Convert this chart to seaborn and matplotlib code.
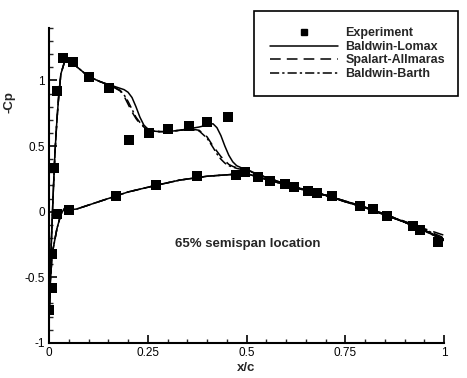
import matplotlib
matplotlib.use("Agg")
import matplotlib.pyplot as plt
from matplotlib.lines import Line2D
from matplotlib.ticker import MultipleLocator, FixedLocator
import seaborn as sns
import pandas as pd

# Experimental pressure taps (x/c, -Cp)
exp_x = [0.000, 0.007, 0.007, 0.013, 0.020, 0.020, 0.035, 0.050, 0.060, 0.100,
         0.152, 0.170, 0.203, 0.253, 0.270, 0.300, 0.354, 0.375, 0.400, 0.454,
         0.473, 0.496, 0.530, 0.560, 0.597, 0.620, 0.656, 0.678, 0.716, 0.787,
         0.820, 0.856, 0.920, 0.940, 0.985]
exp_cp = [-0.75, -0.58, -0.32, 0.33, 0.92, -0.02, 1.17, 0.015, 1.14, 1.03,
          0.94, 0.12, 0.545, 0.60, 0.20, 0.63, 0.655, 0.27, 0.68, 0.72,
          0.28, 0.30, 0.265, 0.235, 0.21, 0.19, 0.16, 0.144, 0.12, 0.045,
          0.02, -0.03, -0.11, -0.14, -0.23]

# Lower surface, trailing edge -> leading edge (shared by all three models)
x_lower = [1.00, 0.95, 0.90, 0.85, 0.80, 0.75, 0.70, 0.65, 0.60, 0.55, 0.50,
           0.47, 0.40, 0.33, 0.27, 0.20, 0.15, 0.10, 0.07, 0.055, 0.047, 0.040,
           0.030, 0.020, 0.008, 0.003, 0.000]
cp_lower = [-0.22, -0.145, -0.08, -0.025, 0.03, 0.075, 0.125, 0.16, 0.205, 0.245, 0.29,
            0.285, 0.27, 0.24, 0.20, 0.15, 0.10, 0.05, 0.02, 0.015, 0.045, 0.03,
            -0.02, -0.13, -0.32, -0.55, -0.80]

# Upper surface, leading edge -> trailing edge
x_upper = [0.000, 0.005, 0.010, 0.015, 0.020, 0.025, 0.030, 0.040, 0.045, 0.060,
           0.080, 0.100, 0.130, 0.160, 0.180, 0.190, 0.200, 0.210, 0.220, 0.230,
           0.240, 0.250, 0.260, 0.280, 0.300, 0.330, 0.360, 0.380, 0.400, 0.415,
           0.425, 0.435, 0.445, 0.455, 0.465, 0.475, 0.490, 0.500, 0.550, 0.600,
           0.650, 0.700, 0.750, 0.800, 0.850, 0.900, 0.950, 1.000]
cp_bl_upper = [-0.80, -0.30, 0.10, 0.45, 0.70, 0.90, 1.05, 1.15, 1.17, 1.13,
               1.08, 1.03, 0.99, 0.96, 0.94, 0.93, 0.91, 0.87, 0.80, 0.72,
               0.66, 0.63, 0.615, 0.61, 0.61, 0.62, 0.635, 0.645, 0.66, 0.67,
               0.64, 0.58, 0.50, 0.43, 0.38, 0.35, 0.33, 0.32, 0.26, 0.21,
               0.165, 0.125, 0.08, 0.035, -0.02, -0.08, -0.14, -0.21]
cp_sa_upper = [-0.80, -0.30, 0.10, 0.45, 0.70, 0.90, 1.05, 1.15, 1.17, 1.13,
               1.08, 1.03, 0.99, 0.955, 0.92, 0.88, 0.82, 0.76, 0.71, 0.67,
               0.645, 0.625, 0.615, 0.61, 0.61, 0.62, 0.63, 0.62, 0.57, 0.50,
               0.46, 0.42, 0.39, 0.36, 0.345, 0.335, 0.325, 0.32, 0.26, 0.21,
               0.165, 0.125, 0.08, 0.035, -0.02, -0.075, -0.13, -0.18]
cp_bb_upper = [-0.80, -0.30, 0.10, 0.45, 0.70, 0.90, 1.05, 1.15, 1.17, 1.13,
               1.08, 1.03, 0.99, 0.955, 0.925, 0.89, 0.84, 0.78, 0.72, 0.68,
               0.65, 0.63, 0.615, 0.61, 0.61, 0.62, 0.63, 0.615, 0.56, 0.49,
               0.44, 0.40, 0.37, 0.35, 0.34, 0.33, 0.32, 0.315, 0.26, 0.21,
               0.165, 0.125, 0.08, 0.035, -0.02, -0.075, -0.135, -0.20]

models = [("Baldwin-Lomax", cp_bl_upper, (None, None)),
          ("Spalart-Allmaras", cp_sa_upper, (7, 4)),
          ("Baldwin-Barth", cp_bb_upper, (6, 2, 1.5, 2))]

sns.set_style("ticks")
plt.rcParams["font.family"] = ["Liberation Sans", "DejaVu Sans"]

fig = plt.figure(figsize=(4.67, 3.78), dpi=100)
ax = fig.add_axes([0.105, 0.093, 0.846, 0.833])

frames = []
for name, cp_up, _ in models:
    frames.append(pd.DataFrame({"x": x_lower + x_upper,
                                "cp": cp_lower + cp_up,
                                "model": name,
                                "order": range(len(x_lower) + len(x_upper))}))
curves = pd.concat(frames, ignore_index=True)

handles = []
for name, _, dash in models:
    sub = curves[curves["model"] == name]
    sns.lineplot(data=sub, x="x", y="cp", sort=False, estimator=None,
                 color="black", lw=1.1, ax=ax)
    line = ax.lines[-1]
    if dash[0] is not None:
        line.set_dashes(dash)
    handles.append(Line2D([], [], color="black", lw=1.1,
                          dashes=dash if dash[0] is not None else (None, None)))

exp_df = pd.DataFrame({"x": exp_x, "cp": exp_cp})
sns.scatterplot(data=exp_df, x="x", y="cp", marker="s", s=50, color="black",
                edgecolor="black", linewidth=0, ax=ax, zorder=5)

ax.set_xlim(0, 1)
ax.set_ylim(-1, 1.4)
ax.xaxis.set_major_locator(FixedLocator([0, 0.25, 0.5, 0.75, 1]))
ax.xaxis.set_minor_locator(MultipleLocator(0.05))
ax.yaxis.set_major_locator(FixedLocator([-1, -0.5, 0, 0.5, 1]))
ax.yaxis.set_minor_locator(MultipleLocator(0.1))
ax.set_xticklabels(["0", "0.25", "0.5", "0.75", "1"])
ax.set_yticklabels(["-1", "-0.5", "0", "0.5", "1"])
ax.tick_params(which="major", direction="in", length=6, width=1.2,
               labelsize=8.5, colors="black", pad=3)
ax.tick_params(which="minor", direction="in", length=3, width=1.0)
for side in ("top", "right"):
    ax.spines[side].set_visible(False)
for side in ("left", "bottom"):
    ax.spines[side].set_linewidth(1.5)
    ax.spines[side].set_color("black")

ax.set_xlabel("x/c", fontsize=9.5, fontweight="bold")
ax.set_ylabel("-Cp", fontsize=9.5, fontweight="bold")
ax.xaxis.set_label_coords(0.5, -0.062)
ax.yaxis.set_label_coords(-0.085, 0.765)

ax.text(0.318, -0.25, "65% semispan location", fontsize=9.5, fontweight="bold",
        ha="left", va="center")

exp_handle = Line2D([], [], ls="none", marker="s", markersize=4.5, color="black")
leg = fig.legend([exp_handle] + handles,
                 ["Experiment", "Baldwin-Lomax", "Spalart-Allmaras", "Baldwin-Barth"],
                 loc="upper left", bbox_to_anchor=(0.531, 0.987, 0.463, 0.0),
                 mode="expand", frameon=True, fancybox=False, edgecolor="black",
                 framealpha=1, prop={"weight": "bold", "size": 9},
                 handlelength=5.4, handletextpad=0.6, labelspacing=0.12,
                 borderpad=1.3)
leg.get_frame().set_linewidth(1.2)

fig.savefig("out.png", dpi=100)
